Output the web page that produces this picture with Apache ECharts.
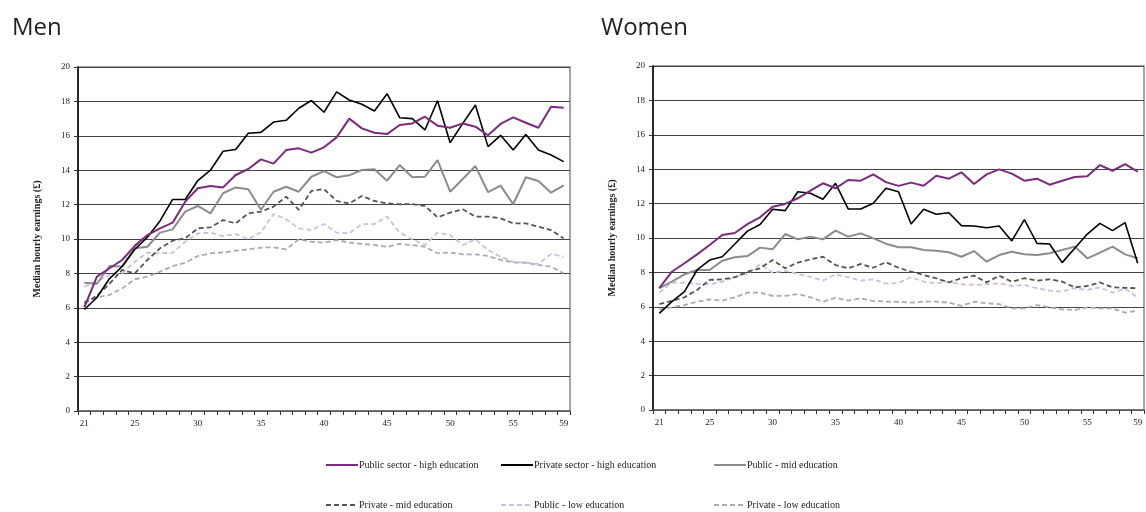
<!DOCTYPE html>
<html>
<head>
<meta charset="utf-8">
<script src="https://cdn.jsdelivr.net/npm/echarts@6/dist/echarts.min.js"></script>
<style>
  html, body { margin: 0; padding: 0; background: #fff; }
  #chart { width: 1146px; height: 512px; }
</style>
</head>
<body>
<div id="chart"></div>
<script>
// Ages on the x axis (21 to 59)
const ages = [];
for (let a = 21; a <= 59; a++) ages.push(String(a));
const shownAges = ['21', '25', '30', '35', '40', '45', '50', '55', '59'];
const yTicks = [0, 2, 4, 6, 8, 10, 12, 14, 16, 18, 20];

const seriesNames = [
  'Public sector - high education',
  'Private sector - high education',
  'Public - mid education',
  'Private - mid education',
  'Public - low education',
  'Private - low education'
];

// Men: median hourly earnings (£) by age
const menPublicHigh = [6.03, 7.81, 8.3, 8.78, 9.6, 10.23, 10.62, 10.95, 12.17, 12.95, 13.08, 13.0, 13.72, 14.07, 14.63, 14.38, 15.17, 15.27, 15.02, 15.33, 15.91, 17.0, 16.43, 16.18, 16.1, 16.63, 16.72, 17.11, 16.59, 16.47, 16.72, 16.53, 16.03, 16.69, 17.07, 16.76, 16.47, 17.69, 17.63];
const menPrivateHigh = [5.9, 6.6, 7.7, 8.4, 9.4, 10.1, 11.05, 12.3, 12.3, 13.4, 14.0, 15.1, 15.2, 16.15, 16.2, 16.8, 16.9, 17.6, 18.05, 17.37, 18.55, 18.08, 17.83, 17.44, 18.45, 17.05, 17.0, 16.34, 18.04, 15.6, 16.72, 17.79, 15.37, 16.03, 15.17, 16.07, 15.17, 14.88, 14.5];
const menPublicMid = [7.46, 7.4, 8.43, 8.4, 9.46, 9.55, 10.37, 10.56, 11.59, 11.92, 11.49, 12.66, 13.0, 12.89, 11.7, 12.75, 13.04, 12.75, 13.62, 13.95, 13.59, 13.7, 14.01, 14.05, 13.39, 14.3, 13.59, 13.62, 14.59, 12.75, 13.49, 14.24, 12.73, 13.1, 12.02, 13.59, 13.37, 12.69, 13.12];
const menPrivateMid = [6.26, 6.7, 7.4, 8.2, 8.0, 8.78, 9.46, 9.9, 10.04, 10.62, 10.68, 11.1, 10.91, 11.49, 11.59, 11.88, 12.46, 11.7, 12.8, 12.9, 12.21, 12.07, 12.5, 12.21, 12.07, 12.02, 12.03, 11.92, 11.26, 11.53, 11.73, 11.3, 11.3, 11.2, 10.91, 10.91, 10.72, 10.52, 10.04];
const menPublicLow = [7.23, 7.52, 7.91, 8.0, 8.68, 9.2, 9.17, 9.2, 9.84, 10.33, 10.37, 10.17, 10.29, 9.98, 10.4, 11.45, 11.15, 10.62, 10.52, 10.87, 10.37, 10.33, 10.87, 10.87, 11.3, 10.38, 9.98, 9.65, 10.37, 10.23, 9.65, 9.98, 9.36, 8.97, 8.68, 8.62, 8.55, 9.13, 8.97];
const menPrivateLow = [6.36, 6.61, 6.74, 7.13, 7.66, 7.81, 8.1, 8.43, 8.62, 9.01, 9.17, 9.22, 9.32, 9.4, 9.5, 9.52, 9.4, 9.98, 9.84, 9.79, 9.94, 9.79, 9.71, 9.65, 9.55, 9.71, 9.65, 9.55, 9.17, 9.22, 9.11, 9.11, 9.01, 8.78, 8.64, 8.62, 8.49, 8.39, 8.0];

// Women: median hourly earnings (£) by age
const womenPublicHigh = [7.08, 8.04, 8.53, 9.05, 9.59, 10.17, 10.29, 10.81, 11.2, 11.82, 11.98, 12.31, 12.75, 13.18, 12.89, 13.37, 13.33, 13.7, 13.25, 13.03, 13.22, 13.04, 13.62, 13.45, 13.82, 13.14, 13.7, 13.99, 13.74, 13.33, 13.45, 13.1, 13.33, 13.55, 13.59, 14.24, 13.91, 14.3, 13.86];
const womenPrivateHigh = [5.62, 6.3, 6.88, 8.14, 8.72, 8.91, 9.65, 10.4, 10.78, 11.67, 11.59, 12.69, 12.6, 12.25, 13.18, 11.69, 11.69, 12.02, 12.89, 12.69, 10.81, 11.67, 11.38, 11.47, 10.72, 10.7, 10.6, 10.7, 9.83, 11.07, 9.69, 9.65, 8.57, 9.4, 10.23, 10.85, 10.43, 10.89, 8.53];
const womenPublicMid = [7.08, 7.46, 7.89, 8.14, 8.14, 8.68, 8.88, 8.95, 9.44, 9.34, 10.23, 9.92, 10.08, 9.92, 10.43, 10.08, 10.27, 9.98, 9.67, 9.46, 9.46, 9.3, 9.26, 9.17, 8.91, 9.24, 8.62, 9.01, 9.2, 9.05, 9.01, 9.11, 9.3, 9.5, 8.82, 9.15, 9.5, 9.05, 8.82];
const womenPrivateMid = [6.15, 6.34, 6.55, 6.98, 7.56, 7.6, 7.72, 8.04, 8.24, 8.72, 8.24, 8.57, 8.76, 8.91, 8.43, 8.24, 8.49, 8.27, 8.59, 8.27, 8.04, 7.85, 7.66, 7.42, 7.66, 7.81, 7.42, 7.81, 7.46, 7.66, 7.52, 7.6, 7.46, 7.13, 7.21, 7.42, 7.13, 7.1, 7.08];
const womenPublicLow = [6.82, 7.4, 7.4, 7.33, 7.31, 7.46, 7.72, 7.91, 8.49, 7.98, 8.1, 7.91, 7.75, 7.52, 7.89, 7.72, 7.52, 7.6, 7.35, 7.38, 7.72, 7.46, 7.36, 7.46, 7.31, 7.27, 7.31, 7.36, 7.21, 7.27, 7.08, 6.94, 6.88, 7.08, 6.98, 7.13, 6.82, 7.04, 6.55];
const womenPrivateLow = [5.85, 5.97, 6.1, 6.3, 6.43, 6.36, 6.55, 6.82, 6.82, 6.63, 6.63, 6.74, 6.55, 6.3, 6.53, 6.36, 6.49, 6.34, 6.3, 6.29, 6.24, 6.3, 6.3, 6.24, 6.05, 6.3, 6.2, 6.16, 5.91, 5.91, 6.1, 5.97, 5.85, 5.81, 5.97, 5.91, 5.91, 5.66, 5.77];

const menData = [menPublicHigh, menPrivateHigh, menPublicMid, menPrivateMid, menPublicLow, menPrivateLow];
const womenData = [womenPublicHigh, womenPrivateHigh, womenPublicMid, womenPrivateMid, womenPublicLow, womenPrivateLow];

// Line styles per group
const styles = [
  { color: '#7b2a80', width: 2, type: 'solid' },
  { color: '#000000', width: 1.6, type: 'solid' },
  { color: '#8c8c8c', width: 2, type: 'solid' },
  { color: '#555555', width: 1.8, type: [5, 3] },
  { color: '#cdbfdd', width: 1.8, type: [5, 3] },
  { color: '#ababab', width: 1.8, type: [5, 3] }
];

const serif = '"Liberation Serif", "DejaVu Serif", serif';

function makeX(gridIndex) {
  return {
    type: 'category', gridIndex, data: ages, boundaryGap: true,
    axisLine: { lineStyle: { color: '#666', width: 1.5 } },
    axisTick: { show: true, interval: 0, length: 4, lineStyle: { color: '#333' } },
    axisLabel: {
      interval: (idx, val) => shownAges.includes(val),
      fontFamily: serif, fontSize: 9, color: '#222', margin: 8
    },
    splitLine: { show: false }
  };
}
function makeY(gridIndex) {
  return {
    type: 'value', gridIndex, min: yTicks[0], max: yTicks[yTicks.length - 1], interval: 2,
    name: 'Median hourly earnings (£)', nameLocation: 'middle', nameGap: 36, nameRotate: 90,
    nameTextStyle: { fontFamily: serif, fontSize: 10, fontWeight: 'bold', color: '#222' },
    axisLine: { show: true, lineStyle: { color: '#000', width: 1.5 } },
    axisTick: { show: true, length: 4, lineStyle: { color: '#333' } },
    axisLabel: { fontFamily: serif, fontSize: 9, color: '#222', margin: 8 },
    splitLine: { show: true, lineStyle: { color: '#444', width: 1 } }
  };
}

const series = [];
[menData, womenData].forEach((group, g) => {
  group.forEach((arr, k) => {
    series.push({
      name: seriesNames[k], type: 'line', xAxisIndex: g, yAxisIndex: g,
      data: arr, symbol: 'none', showSymbol: false, animation: false,
      lineStyle: { color: styles[k].color, width: styles[k].width, type: styles[k].type },
      itemStyle: { color: styles[k].color },
      z: 10 - k
    });
  });
});

// Two legend rows, three items each (line swatch only, no marker)
const legendPos = [
  [325, 460], [500, 460], [713, 460],
  [325, 500], [500, 500], [713, 500]
];
const legends = seriesNames.map((n, k) => ({
  data: [n], left: legendPos[k][0], top: legendPos[k][1],
  itemWidth: 32, itemHeight: 10, padding: 0, itemGap: 0,
  itemStyle: { opacity: 0 },
  textStyle: { fontFamily: serif, fontSize: 10, color: '#222', padding: [0, 0, 0, -4] },
  selectedMode: false
}));

const titleFont = { fontFamily: '"Open Sans", sans-serif', fontSize: 24, fontWeight: 'normal', color: '#222' };

const option = {
  animation: false,
  backgroundColor: '#fff',
  title: [
    { text: 'Men', left: 7, top: 11, textStyle: titleFont },
    { text: 'Women', left: 596, top: 11, textStyle: titleFont }
  ],
  grid: [
    { left: 78, right: 576, top: 67, bottom: 101, show: true, borderColor: '#888', borderWidth: 1.5, containLabel: false },
    { left: 653, right: 2, top: 66, bottom: 102, show: true, borderColor: '#888', borderWidth: 1.5, containLabel: false }
  ],
  xAxis: [makeX(0), makeX(1)],
  yAxis: [makeY(0), makeY(1)],
  legend: legends,
  series
};

const chart = echarts.init(document.getElementById('chart'), null, { renderer: 'canvas' });
chart.setOption(option);
</script>
</body>
</html>
